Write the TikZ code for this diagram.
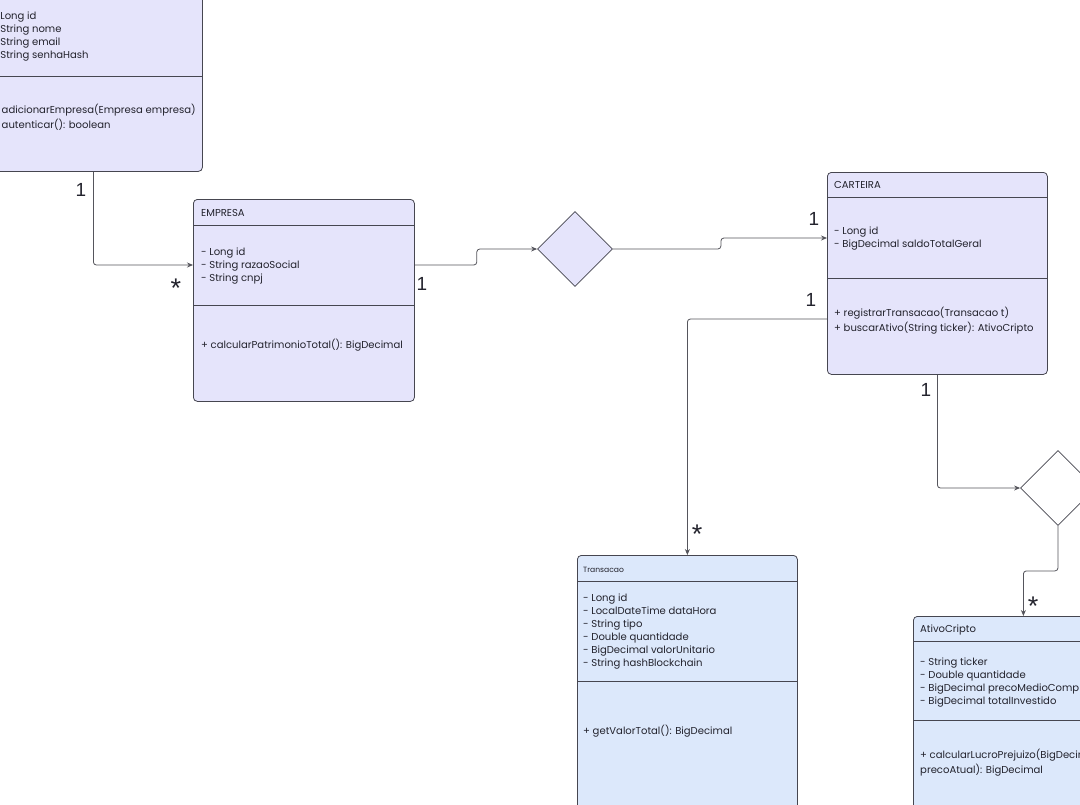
\documentclass[tikz,border=0pt]{standalone}
\usepackage{fontspec}
\setmainfont{Poppins}
\newfontfamily\multfont{Liberation Sans}
\usetikzlibrary{arrows.meta,calc,shapes.geometric}
\definecolor{lavFill}{RGB}{229,228,251}
\definecolor{blueFill}{RGB}{220,232,251}
\definecolor{edgeGray}{RGB}{70,70,80}
\definecolor{lineGray}{RGB}{85,85,92}
\definecolor{textGray}{RGB}{35,35,45}
\newcommand{\umlfont}{\fontsize{10.05}{13}\selectfont}
\newcommand{\tinyfont}{\fontsize{7.6}{8}\selectfont}

\begin{document}
\begin{tikzpicture}[x=1pt,y=-1pt,
    classbox/.style={draw=edgeGray,line width=0.8pt,rounded corners=4pt,
      anchor=north west,inner sep=0pt,minimum width=220pt},
    divider/.style={draw=edgeGray,line width=0.8pt},
    umltext/.style={anchor=north west,inner sep=0pt,align=left,
      font=\umlfont,text=textGray},
    relation/.style={diamond,draw=edgeGray,line width=0.8pt,
      minimum width=75pt,minimum height=75pt,inner sep=0pt},
    conn/.style={draw=lineGray,line width=0.8pt,rounded corners=3pt,
      -{Stealth[length=6pt,width=5pt]}},
    mult/.style={font=\multfont\fontsize{19}{19}\selectfont,text=textGray,inner sep=0pt},
    multstar/.style={mult,font=\multfont\fontsize{27}{27}\selectfont}]
  \useasboundingbox (0,0) rectangle (1080,804);
  \clip (0,0) rectangle (1080,804);
  \fill[white] (0,0) rectangle (1080,804);

  % classes
  \node[classbox,fill=lavFill,minimum width=218pt,minimum height=231pt] (usuario) at (-16,-60) {};
  \node[classbox,fill=lavFill,minimum width=221pt,minimum height=202pt] (empresa) at (193,199) {};
  \node[classbox,fill=lavFill,minimum height=202pt] (carteira) at (827,172) {};
  \node[classbox,fill=blueFill,minimum height=300pt] (transacao) at (577,555) {};
  \node[classbox,fill=blueFill,minimum height=300pt] (ativo) at (913,616) {};

  \draw[divider] (usuario.west |- 0,76) -- (usuario.east |- 0,76);
  \draw[divider] (empresa.west |- 0,225) -- (empresa.east |- 0,225);
  \draw[divider] (empresa.west |- 0,305) -- (empresa.east |- 0,305);
  \draw[divider] (carteira.west |- 0,197) -- (carteira.east |- 0,197);
  \draw[divider] (carteira.west |- 0,278) -- (carteira.east |- 0,278);
  \draw[divider] (transacao.west |- 0,581) -- (transacao.east |- 0,581);
  \draw[divider] (transacao.west |- 0,681) -- (transacao.east |- 0,681);
  \draw[divider] (ativo.west |- 0,641) -- (ativo.east |- 0,641);
  \draw[divider] (ativo.west |- 0,720) -- (ativo.east |- 0,720);

  % texts
  \node[umltext] (usuarioAttr) at (-8,10.4) {\strut- Long id\\- String nome\\- String email\\- String senhaHash};
  \node[umltext] (usuarioOps) at (-8,104.4) {\strut+ adicionarEmpresa(Empresa empresa)\\+ autenticar(): boolean};

  \node[umltext] (empresaName) at (201,207.4) {\strut EMPRESA};
  \node[umltext] (empresaAttr) at (201,246.4) {\strut- Long id\\- String razaoSocial\\- String cnpj};
  \node[umltext] (empresaOps) at (201,339.4) {\strut+ calcularPatrimonioTotal(): BigDecimal};

  \node[umltext] (carteiraName) at (834,179.4) {\strut CARTEIRA};
  \node[umltext] (carteiraAttr) at (834,225.4) {\strut- Long id\\- BigDecimal saldoTotalGeral};
  \node[umltext] (carteiraOps) at (834,307.4) {\strut+ registrarTransacao(Transacao t)\\+ buscarAtivo(String ticker): AtivoCripto};

  \node[umltext,font=\tinyfont,anchor=base west] (transacaoName) at (583,572) {Transacao};
  \node[umltext] (transacaoAttr) at (583,592.4) {\strut- Long id\\- LocalDateTime dataHora\\- String tipo\\- Double quantidade\\- BigDecimal valorUnitario\\- String hashBlockchain};
  \node[umltext] (transacaoOps) at (583,725.4) {\strut+ getValorTotal(): BigDecimal};

  \node[umltext] (ativoName) at (920,623.4) {\strut AtivoCripto};
  \node[umltext] (ativoAttr) at (920,656.4) {\strut- String ticker\\- Double quantidade\\- BigDecimal precoMedioCompra\\- BigDecimal totalInvestido};
  \node[umltext] (ativoOps) at (920,749.4) {\strut+ calcularLucroPrejuizo(BigDecimal\\precoAtual): BigDecimal};

  % associations
  \node[relation,fill=lavFill] (possui) at (575,249) {};
  \node[relation,fill=white] (contem) at (1058,488) {};

  \draw[conn] (usuario.south) |- (empresa.west |- 0,265);
  \draw[conn] (empresa.east |- 0,265) -- ++(62,0) |- (possui.west);
  \draw[conn] (possui.east) -- ++(108,0) |- (carteira.west |- 0,238);
  \draw[conn] (carteira.west |- 0,319) -| (transacao.north);
  \draw[conn] (carteira.south) |- (contem.west);
  \draw[conn] (contem.south) -- ++(0,45) -| (ativo.north);

  % multiplicities
  \node[mult] (m1) at (81,190) {1};
  \node[multstar] (m2) at (176,288) {*};
  \node[mult] (m3) at (422,284) {1};
  \node[mult] (m4) at (814,219) {1};
  \node[mult] (m5) at (811,300) {1};
  \node[multstar] (m6) at (697,534) {*};
  \node[mult] (m7) at (926,390) {1};
  \node[multstar] (m8) at (1033,606) {*};
\end{tikzpicture}
\end{document}
